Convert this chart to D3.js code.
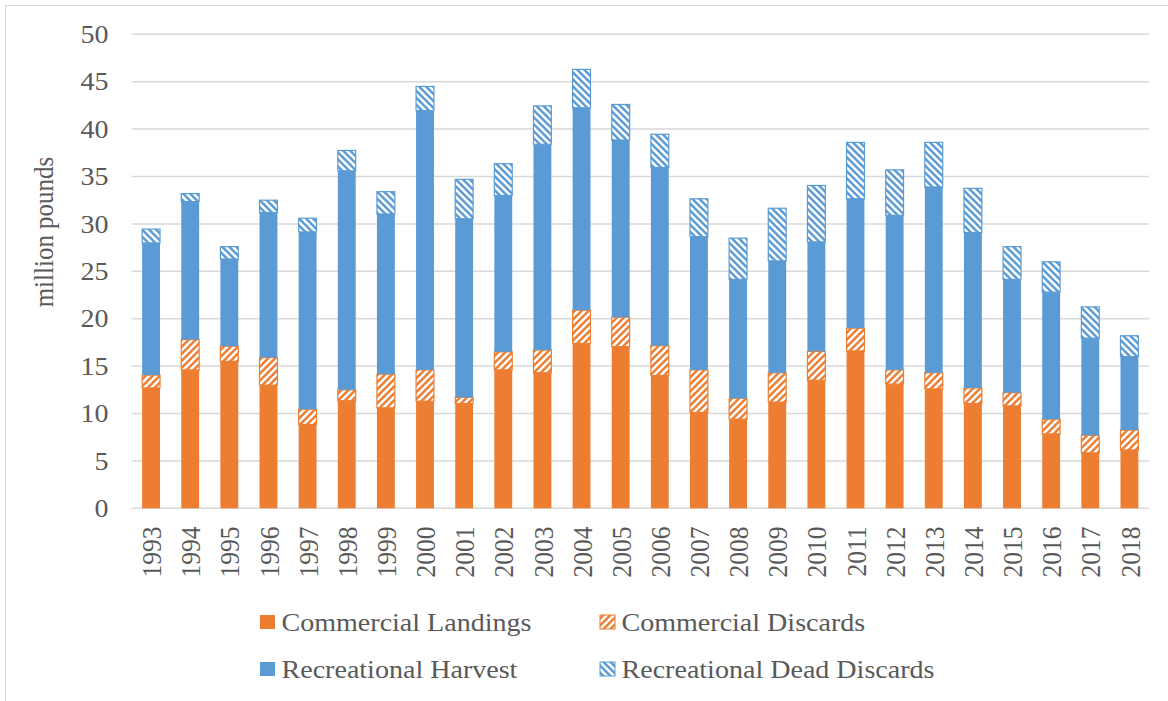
<!DOCTYPE html>
<html>
<head>
<meta charset="utf-8">
<script src="https://cdn.jsdelivr.net/npm/d3@7"></script>
<style>
  html, body { margin: 0; padding: 0; background: #fff; }
  svg { display: block; }
  text { font-family: "Liberation Serif", "Times New Roman", serif; fill: #595959; }
</style>
</head>
<body>
<svg id="chart" width="1168" height="701"></svg>
<script>
// values (million pounds)
const years = d3.range(1993, 2019).map(String);
const commercialLandings = [12.7, 14.6, 15.5, 13.0, 8.85, 11.35, 10.6, 11.3, 11.05, 14.6, 14.3, 17.4, 17.05,
  14.0, 10.1, 9.4, 11.2, 13.5, 16.6, 13.1, 12.6, 11.05, 10.8, 7.85, 5.85, 6.15];
const commercialDiscards = [1.35, 3.2, 1.6, 2.9, 1.6, 1.15, 3.55, 3.3, 0.65, 1.9, 2.4, 3.5, 3.1,
  3.15, 4.5, 2.2, 3.1, 3.05, 2.4, 1.5, 1.7, 1.65, 1.4, 1.55, 1.85, 2.1];
const recreationalHarvest = [13.95, 14.55, 9.2, 15.3, 18.7, 23.1, 16.9, 27.35, 18.85, 16.5, 21.7, 21.35, 18.7,
  18.8, 14.05, 12.55, 11.8, 11.55, 13.65, 16.3, 19.6, 16.4, 11.95, 13.4, 10.25, 7.75];
const recreationalDeadDiscards = [1.45, 0.85, 1.3, 1.3, 1.45, 2.15, 2.35, 2.55, 4.15, 3.35, 4.05, 4.05, 3.75,
  3.5, 4.0, 4.35, 5.55, 5.95, 5.95, 4.8, 4.7, 4.65, 3.45, 3.2, 3.3, 2.2];
const seriesNames = ['Commercial Landings', 'Commercial Discards', 'Recreational Harvest', 'Recreational Dead Discards'];
const yTicks = [0, 5, 10, 15, 20, 25, 30, 35, 40, 45, 50];

const orange = '#ED7D31';
const blue = '#5B9BD5';
const stretch = 1.1; // the reference text is a bit wide

const svg = d3.select('#chart');

// chart border (only left/top visible in the picture)
svg.append('rect')
  .attr('x', 5.5).attr('y', 5.5)
  .attr('width', 1200).attr('height', 720)
  .attr('fill', 'none')
  .attr('stroke', '#d9d9d9')
  .attr('stroke-width', 1);

// hatch patterns (Excel-like wide diagonals)
const defs = svg.append('defs');
const hatch = (id, color, up) => {
  const s = 7;
  const p = defs.append('pattern')
    .attr('id', id)
    .attr('patternUnits', 'userSpaceOnUse')
    .attr('width', s).attr('height', s);
  p.append('rect').attr('width', s).attr('height', s).attr('fill', color);
  const d = up
    ? `M0,${s} L${s},0 M-2,2 L2,-2 M${s - 2},${s + 2} L${s + 2},${s - 2}`
    : `M0,0 L${s},${s} M-2,${s - 2} L2,${s + 2} M${s - 2},-2 L${s + 2},2`;
  p.append('path').attr('d', d).attr('stroke', '#fff').attr('stroke-width', 2.6);
};
hatch('hatchCD', orange, true);
hatch('hatchRDD', blue, false);

const fills = [orange, 'url(#hatchCD)', blue, 'url(#hatchRDD)'];
const edges = [null, orange, null, blue];

const x = d3.scaleBand()
  .domain(years)
  .range([131.5, 1149])
  .paddingInner(0.543)
  .paddingOuter(0.2715);

const y = d3.scaleLinear()
  .domain([0, 50])
  .range([508.3, 34.3]);

// gridlines
svg.append('g')
  .selectAll('line')
  .data(yTicks)
  .join('line')
  .attr('x1', 131.5).attr('x2', 1149)
  .attr('y1', (d) => y(d)).attr('y2', (d) => y(d))
  .attr('stroke', '#d9d9d9')
  .attr('stroke-width', 1.5);

// y tick labels
svg.append('g')
  .selectAll('text')
  .data(yTicks)
  .join('text')
  .attr('transform', (d) => `translate(108.5,${y(d)}) scale(${stretch},1)`)
  .attr('dy', '0.34em')
  .attr('text-anchor', 'end')
  .attr('font-size', 25.5)
  .text((d) => d);

// stacked bars
const rows = years.map((yr, i) => ({
  year: yr,
  s0: commercialLandings[i],
  s1: commercialDiscards[i],
  s2: recreationalHarvest[i],
  s3: recreationalDeadDiscards[i],
}));
const stacked = d3.stack().keys(['s0', 's1', 's2', 's3'])(rows);

svg.append('g')
  .selectAll('g')
  .data(stacked)
  .join('g')
  .attr('fill', (d, i) => fills[i])
  .attr('stroke', (d, i) => edges[i] || 'none')
  .attr('stroke-width', 1.2)
  .selectAll('rect')
  .data((d) => d)
  .join('rect')
  .attr('x', (d) => x(d.data.year))
  .attr('width', x.bandwidth())
  .attr('y', (d) => y(d[1]))
  .attr('height', (d) => y(d[0]) - y(d[1]));

// x labels (rotated)
svg.append('g')
  .selectAll('text')
  .data(years)
  .join('text')
  .attr('transform', (d) => `translate(${x(d) + x.bandwidth() / 2},526.5) rotate(-90) scale(1,${stretch})`)
  .attr('dy', '0.36em')
  .attr('text-anchor', 'end')
  .attr('font-size', 25.5)
  .text((d) => d);

// axis title
svg.append('text')
  .attr('transform', `translate(53,232) rotate(-90) scale(1,${stretch})`)
  .attr('text-anchor', 'middle')
  .attr('font-size', 25)
  .text('million pounds');

// legend, 2 x 2
const legendCols = [260, 600];
const legendRows = [615, 662];
const legend = svg.append('g')
  .selectAll('g')
  .data(seriesNames)
  .join('g')
  .attr('transform', (d, i) => `translate(${legendCols[i % 2]},${legendRows[Math.floor(i / 2)]})`);

legend.append('rect')
  .attr('width', 15).attr('height', 14)
  .attr('fill', (d, i) => fills[i])
  .attr('stroke', (d, i) => edges[i] || 'none')
  .attr('stroke-width', 1);

legend.append('text')
  .attr('transform', `translate(21.5,15.5) scale(${stretch},1)`)
  .attr('font-size', 25.5)
  .text((d) => d);
</script>
</body>
</html>
